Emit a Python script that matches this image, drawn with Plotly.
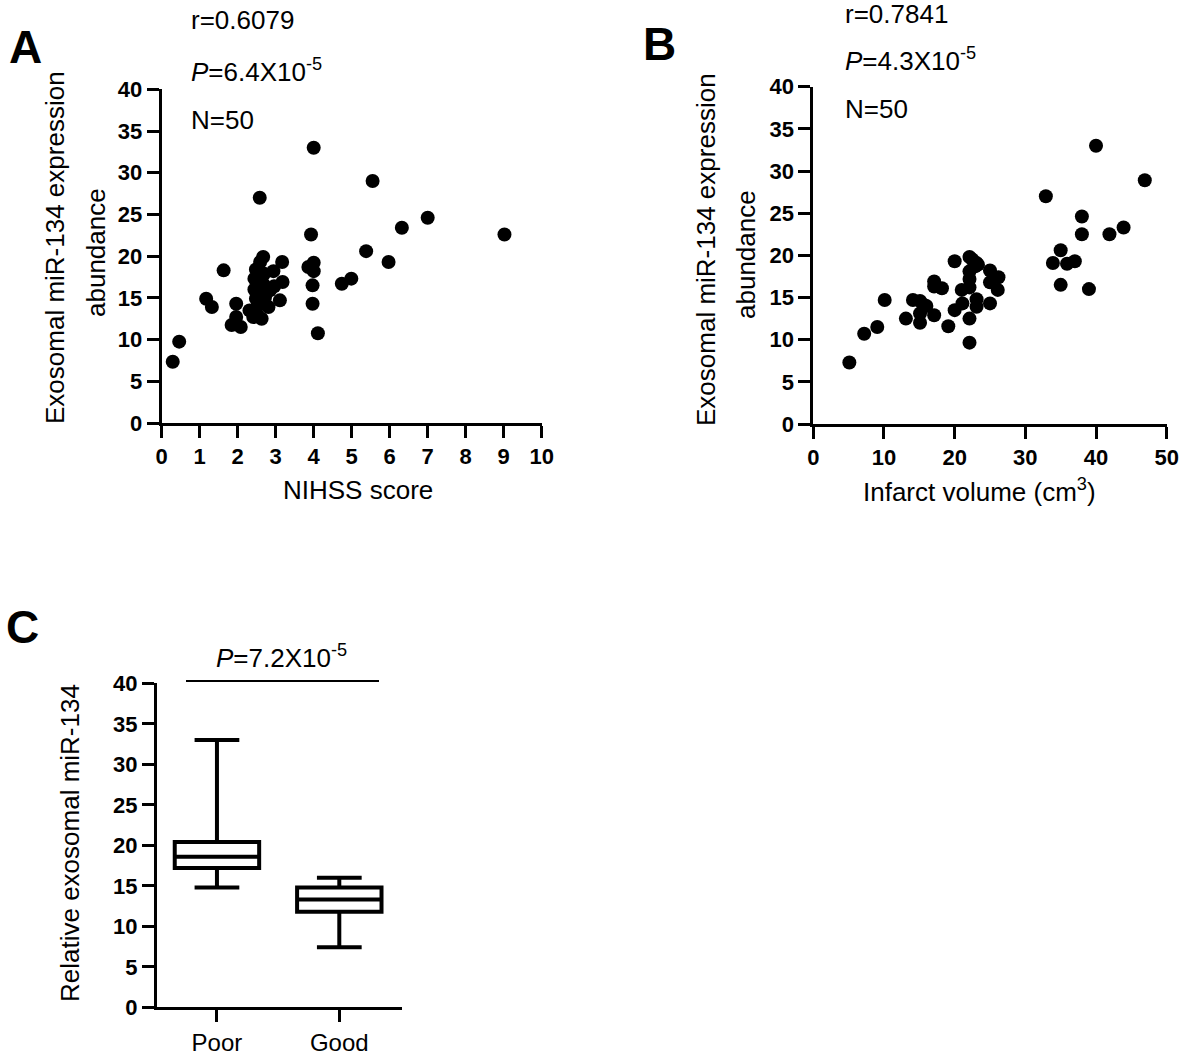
import plotly.graph_objects as go

# ---------------- data ----------------
nihss_score = [4.0, 5.55, 2.58, 7.0, 6.32, 9.02, 3.93, 5.38, 5.97, 3.17, 2.67, 2.59, 2.48, 1.63, 2.94,
               4.0, 3.86, 4.0, 2.44, 3.18, 4.99, 4.74, 3.97, 2.67, 2.44, 2.85, 2.72, 2.48, 3.11, 1.17,
               1.32, 1.96, 3.97, 2.81, 2.31, 2.5, 1.96, 2.41, 2.63, 1.84, 2.08, 4.11, 0.46, 0.29, 2.6,
               2.75, 2.96, 2.63, 2.55, 2.7]
mir134_a = [33.0, 29.0, 27.0, 24.6, 23.4, 22.6, 22.6, 20.6, 19.3, 19.3, 19.9, 19.3, 18.4, 18.3, 18.2,
            19.2, 18.7, 18.2, 17.3, 16.9, 17.3, 16.7, 16.5, 16.7, 16.0, 15.9, 15.1, 14.9, 14.7, 14.9,
            13.9, 14.3, 14.3, 13.9, 13.5, 13.1, 12.7, 12.7, 12.5, 11.75, 11.5, 10.75, 9.75, 7.35, 17.6,
            16.1, 16.4, 16.0, 14.3, 17.9]

infarct_volume = [40.0, 46.9, 32.9, 38.0, 43.9, 38.0, 41.9, 35.0, 33.9, 35.9, 37.0, 35.0, 39.0, 20.0,
                  22.1, 23.1, 22.9, 25.0, 22.1, 26.2, 22.1, 17.1, 25.0, 18.2, 17.1, 22.1, 21.0, 26.1,
                  10.1, 14.1, 15.1, 23.1, 16.0, 21.1, 25.0, 20.0, 23.1, 17.1, 15.1, 13.1, 22.1, 15.1,
                  19.1, 9.05, 7.2, 22.1, 5.1, 22.5, 23.3, 15.5]
mir134_b = [33.0, 28.9, 27.0, 24.6, 23.3, 22.5, 22.5, 20.6, 19.1, 19.0, 19.3, 16.5, 16.0, 19.3, 19.8,
            19.1, 18.7, 18.2, 18.1, 17.4, 17.2, 16.9, 16.8, 16.1, 16.3, 16.2, 15.9, 15.9, 14.7, 14.7,
            14.6, 14.8, 14.0, 14.3, 14.3, 13.5, 13.9, 12.9, 13.1, 12.5, 12.5, 12.0, 11.6, 11.5, 10.7,
            9.65, 7.3, 19.5, 18.9, 14.2]

outcome_groups = ["Poor", "Good"]
box_min = [14.8, 7.4]
box_q1 = [17.2, 11.8]
box_median = [18.6, 13.3]
box_q3 = [20.4, 14.8]
box_max = [33.0, 16.0]

W, H = 1181, 1056
FONT = "Arial, Liberation Sans, Helvetica, sans-serif"


def px(x):
    return x / W


def py(y):
    return 1 - y / H


fig = go.Figure()

marker = dict(color="black", size=14, line=dict(width=0))
fig.add_trace(go.Scatter(x=nihss_score, y=mir134_a, mode="markers", marker=marker,
                         xaxis="x", yaxis="y", showlegend=False))
fig.add_trace(go.Scatter(x=infarct_volume, y=mir134_b, mode="markers", marker=marker,
                         xaxis="x2", yaxis="y2", showlegend=False))
fig.add_trace(go.Box(x=outcome_groups, q1=box_q1, median=box_median, q3=box_q3,
                     lowerfence=box_min, upperfence=box_max,
                     fillcolor="white", line=dict(color="black", width=4),
                     whiskerwidth=0.53, width=0.69, boxpoints=False,
                     xaxis="x3", yaxis="y3", showlegend=False))

axis_common = dict(showline=True, linecolor="black", linewidth=3, ticks="outside",
                   ticklen=12, tickwidth=3, tickcolor="black", showgrid=False, zeroline=False,
                   automargin=False,
                   tickfont=dict(family=FONT, size=22, color="black", weight="bold"))
xaxis_common = dict(axis_common, ticklabelstandoff=0)
cat_axis = dict(axis_common, ticklabelstandoff=0)
cat_axis["tickfont"] = dict(family=FONT, size=24, color="black")

fig.update_layout(
    template="none",
    width=W, height=H, margin=dict(l=0, r=0, t=0, b=0, pad=0),
    paper_bgcolor="white", plot_bgcolor="white",
    xaxis=dict(xaxis_common, domain=[px(161.7), px(541.7)], range=[0, 10], dtick=1, anchor="y"),
    yaxis=dict(axis_common, domain=[py(423), py(89.3)], range=[0, 40], dtick=5, anchor="x"),
    xaxis2=dict(xaxis_common, domain=[px(813.3), px(1166.7)], range=[0, 50], dtick=10, anchor="y2"),
    yaxis2=dict(axis_common, domain=[py(424), py(86.7)], range=[0, 40], dtick=5, anchor="x2"),
    xaxis3=dict(cat_axis, domain=[px(157), px(401.7)], range=[-0.49, 1.51], anchor="y3",
                type="category"),
    yaxis3=dict(axis_common, domain=[py(1007.3), py(683.3)], range=[0, 40], dtick=5, anchor="x3"),
)

ann = []


def add_text(text, x, y, size=26, xanchor="center", yanchor="middle", angle=0, bold=False):
    ann.append(dict(text=text, x=px(x), y=py(y), xref="paper", yref="paper", showarrow=False,
                    xanchor=xanchor, yanchor=yanchor, textangle=angle,
                    font=dict(family=FONT, size=size, color="black",
                              weight="bold" if bold else "normal")))


# panel letters
add_text("A", 25, 47, size=46, bold=True)
add_text("B", 660, 44, size=46, bold=True)
add_text("C", 22, 627, size=46, bold=True)

# stats text
add_text("r=0.6079", 189, 20, xanchor="left")
add_text("<i>P</i>=6.4X10<sup>-5</sup>", 189, 70, xanchor="left")
add_text("N=50", 189, 120, xanchor="left")
add_text("r=0.7841", 843, 14, xanchor="left")
add_text("<i>P</i>=4.3X10<sup>-5</sup>", 843, 60, xanchor="left")
add_text("N=50", 843, 109, xanchor="left")
add_text("<i>P</i>=7.2X10<sup>-5</sup>", 281, 656)

# axis titles
add_text("Exosomal miR-134 expression", 55, 248, angle=-90)
add_text("abundance", 96, 252, angle=-90)
add_text("NIHSS score", 358, 490)
add_text("Exosomal miR-134 expression", 706, 250, angle=-90)
add_text("abundance", 746, 255, angle=-90)
add_text("Infarct volume (cm<sup>3</sup>)", 980, 490)
add_text("Relative exosomal miR-134", 70, 843, angle=-90)

fig.update_layout(annotations=ann)

# significance line
fig.add_shape(type="line", xref="paper", yref="paper", x0=px(186), x1=px(379),
              y0=py(681), y1=py(681), line=dict(color="black", width=2))

fig.write_html("out.html", config={"displayModeBar": False},
               post_script="document.body.style.margin='0px';document.body.style.overflow='hidden';")
